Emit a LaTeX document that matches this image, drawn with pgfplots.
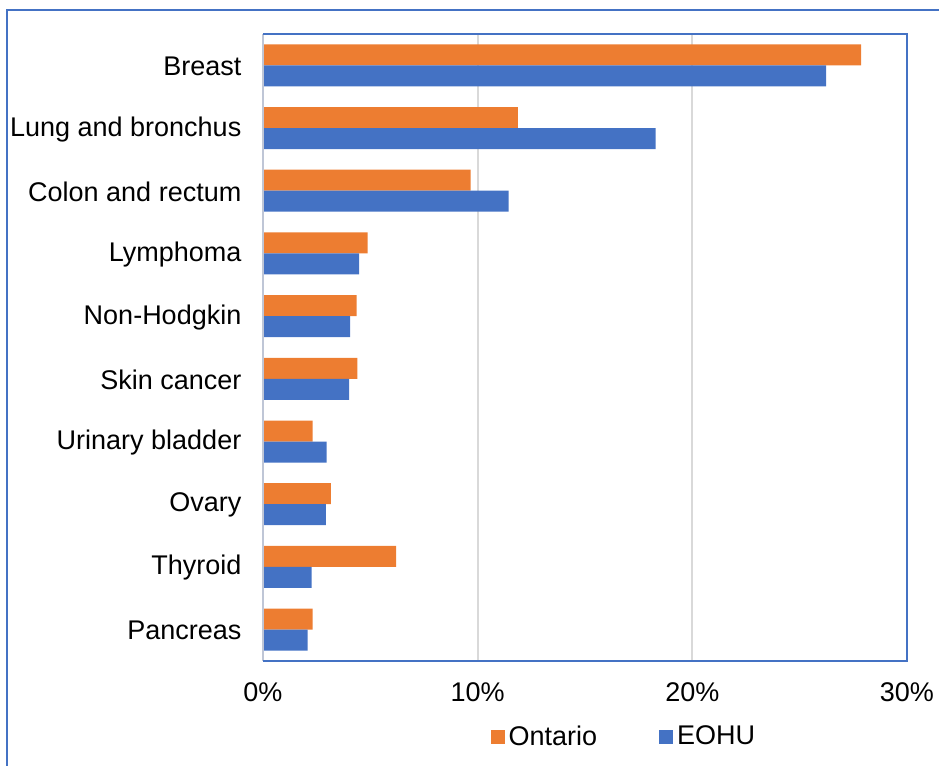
\documentclass[border=0pt]{standalone}
\usepackage{pgfplots}
\pgfplotsset{compat=1.18}
\usepackage{fontspec}
\setmainfont{Liberation Sans}
\definecolor{ont}{HTML}{ED7D31}
\definecolor{eohu}{HTML}{4472C4}
\definecolor{gridc}{HTML}{D9D9D9}
\definecolor{laxis}{HTML}{BFC6D6}
\begin{document}
\begin{tikzpicture}
\useasboundingbox (-131.5pt,-52.5pt) rectangle (338pt,330.5pt);
\draw[eohu, line width=1.1pt] (-128pt,-70pt) -- (-128pt,325.5pt) -- (360pt,325.5pt);
\begin{axis}[
  at={(0pt,0pt)}, anchor=south west,
  scale only axis, width=322pt, height=313.5pt,
  xmin=0, xmax=30, ymin=-0.5, ymax=9.5,
  xbar, bar width=10.5pt,
  axis line style={draw=none},
  xmajorgrids, grid style={gridc, line width=1pt},
  xtick={0,10,20,30},
  xticklabel={\pgfmathprintnumber{\tick}\%},
  ytick={0,1,2,3,4,5,6,7,8,9},
  yticklabels={Pancreas,Thyroid,Ovary,Urinary bladder,Skin cancer,Non-Hodgkin,Lymphoma,Colon and rectum,Lung and bronchus,Breast},
  major tick length=0pt,
  /pgf/number format/assume math mode=true,
  tick label style={font=\fontsize{13.5}{16.2}\selectfont},
  xticklabel style={yshift=-7.3pt},
  yticklabel style={xshift=-7.3pt, yshift=-0.5pt},
  legend style={draw=none, at={(rel axis cs:0.562,-0.121)}, anchor=center,
    legend columns=2, font=\fontsize{13.5}{16.2}\selectfont,
    /tikz/every even column/.append style={column sep=29pt}},
  legend image code/.code={\fill[#1] (0pt,-3.5pt) rectangle (7pt,3.5pt);},
  clip=false,
]
\addplot[fill=ont, draw=none, bar shift=5.25pt] coordinates {
 (27.86,9) (11.87,8) (9.67,7) (4.87,6) (4.36,5) (4.40,4) (2.31,3) (3.16,2) (6.20,1) (2.31,0)};
\addlegendentry{Ontario}
\addplot[fill=eohu, draw=none, bar shift=-5.25pt] coordinates {
 (26.23,9) (18.29,8) (11.44,7) (4.48,6) (4.06,5) (4.01,4) (2.96,3) (2.93,2) (2.26,1) (2.08,0)};
\addlegendentry{EOHU}
\draw[laxis, line width=1pt] (rel axis cs:0,0) -- (rel axis cs:0,1);
\draw[eohu, line width=0.9pt] (rel axis cs:0,1) -- (rel axis cs:1,1) -- (rel axis cs:1,0) -- (rel axis cs:0,0);
\end{axis}
\end{tikzpicture}
\end{document}
